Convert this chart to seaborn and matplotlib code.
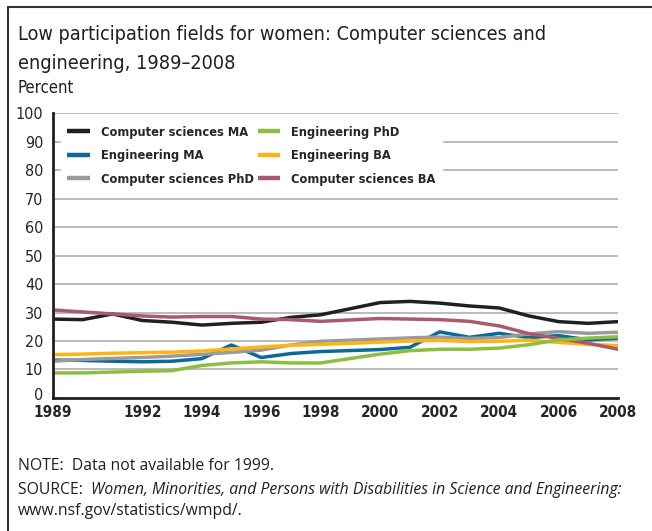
import matplotlib
matplotlib.use("Agg")
import matplotlib.pyplot as plt
import seaborn as sns
import pandas as pd
from matplotlib import transforms
from matplotlib.lines import Line2D

# no data for 1999, lines join 1998 to 2000
YEARS = [1989, 1990, 1991, 1992, 1993, 1994, 1995, 1996, 1997, 1998,
         2000, 2001, 2002, 2003, 2004, 2005, 2006, 2007, 2008]

CS_MA = [27.7, 27.5, 29.5, 27.2, 26.6, 25.6, 26.2, 26.6, 28.3, 29.2,
         33.5, 33.9, 33.3, 32.3, 31.6, 28.8, 26.8, 26.2, 26.8]
ENG_MA = [13.3, 13.2, 12.9, 12.7, 12.9, 13.8, 18.6, 14.2, 15.6, 16.3,
          17.0, 17.8, 23.2, 21.3, 22.7, 21.2, 21.9, 20.4, 21.0]
CS_PHD = [12.9, 13.5, 13.9, 14.2, 14.7, 15.3, 16.0, 16.8, 18.6, 19.9,
          20.7, 21.1, 21.4, 20.9, 21.2, 22.5, 23.3, 22.7, 23.1]
ENG_PHD = [8.8, 8.8, 9.1, 9.4, 9.6, 11.4, 12.3, 12.7, 12.3, 12.3,
           15.4, 16.6, 17.1, 17.1, 17.5, 18.7, 20.4, 21.0, 21.5]
ENG_BA = [15.2, 15.4, 15.7, 15.9, 16.1, 16.5, 17.2, 17.9, 18.5, 18.8,
          19.6, 20.0, 20.2, 19.8, 19.9, 20.3, 19.5, 18.8, 18.4]
CS_BA = [30.9, 30.2, 29.5, 28.8, 28.4, 28.6, 28.6, 27.7, 27.5, 26.9,
         27.9, 27.7, 27.5, 26.9, 25.3, 22.6, 20.9, 19.2, 17.1]

SERIES_NAMES = ["Computer sciences MA", "Engineering MA", "Computer sciences PhD",
                "Engineering PhD", "Engineering BA", "Computer sciences BA"]
SERIES_VALUES = [CS_MA, ENG_MA, CS_PHD, ENG_PHD, ENG_BA, CS_BA]
COLORS = ["#231f20", "#0b6a98", "#9a9b9d", "#8cbf3f", "#fdb515", "#a95b6e"]
# drawing order (back to front)
Z_ORDER = [1, 0, 2, 5, 3, 4]

X_LABELED = [1989, 1992, 1994, 1996, 1998, 2000, 2002, 2004, 2006, 2008]

sns.set_theme(style="white")
plt.rcParams["font.family"] = ["DejaVu Sans"]
plt.rcParams["font.stretch"] = "condensed"
BODY = ["Open Sans", "DejaVu Sans"]

rows = []
for name, vals in zip(SERIES_NAMES, SERIES_VALUES):
    for y, v in zip(YEARS, vals):
        rows.append({"year": y, "value": v, "series": name})
df = pd.DataFrame(rows)

fig = plt.figure(figsize=(6.52, 5.31), dpi=100)
ax = fig.add_axes([0.0813, 0.2505, 0.948 - 0.0813, 0.787 - 0.2505])

handles = {}
for i, name in enumerate(SERIES_NAMES):
    sns.lineplot(data=df[df["series"] == name], x="year", y="value", ax=ax,
                 color=COLORS[i], linewidth=2.5, zorder=3 + Z_ORDER[i],
                 legend=False)
    handles[name] = Line2D([0], [0], color=COLORS[i], linewidth=3.2,
                           solid_capstyle="butt")

ax.set_xlim(1989, 2008)
ax.set_ylim(0, 100)
ax.set_yticks(range(0, 101, 10))
ax.set_yticklabels([str(v) for v in range(0, 101, 10)], fontsize=11.5)
ax.set_xticks(range(1989, 2009))
ax.set_xticklabels([str(y) if y in X_LABELED else "" for y in range(1989, 2009)],
                   fontsize=11, fontweight="bold")
ax.tick_params(axis="x", direction="in", length=5, width=1.2, color="black", pad=5)
ax.tick_params(axis="y", length=0, pad=7)
ax.set_xlabel("")
ax.set_ylabel("")
# lift the "0" label a little, as in the original
zero = ax.get_yticklabels()[0]
zero.set_transform(zero.get_transform() +
                   transforms.ScaledTranslation(0, 4 / 100, fig.dpi_scale_trans))

for v in range(10, 101, 10):
    ax.axhline(v, color="#b5b5b5", linewidth=1.3, zorder=1)

for s in ["top", "right"]:
    ax.spines[s].set_visible(False)
for s in ["left", "bottom"]:
    ax.spines[s].set_color("#231f20")
    ax.spines[s].set_linewidth(2)
    ax.spines[s].set_zorder(10)

leg = ax.legend([handles[n] for n in SERIES_NAMES], SERIES_NAMES, ncol=2,
                loc="upper left", bbox_to_anchor=(0.014, 0.978), frameon=True,
                prop={"family": "DejaVu Sans", "stretch": "condensed",
                      "weight": "bold", "size": 9.2},
                handlelength=1.75, handletextpad=0.85, columnspacing=0.35,
                labelspacing=0.82, borderpad=0.5, borderaxespad=0)
leg.get_frame().set_facecolor("white")
leg.get_frame().set_edgecolor("white")
leg.get_frame().set_alpha(1)
leg.get_frame().set_boxstyle("square", pad=0)
leg.set_zorder(20)

fig.text(0.0276, 0.953, "Low participation fields for women: Computer sciences and\n"
         "engineering, 1989\u20132008", fontsize=14.2, va="top", ha="left",
         linespacing=1.65, color="#231f20")
fig.text(0.0276, 0.834, "Percent", fontsize=12, va="center", ha="left", color="#231f20")

fs_body = 11.3
fig.text(0.0276, 0.1224, "NOTE:  Data not available for 1999.", fontsize=fs_body,
         family=BODY, stretch="normal", va="center", ha="left", color="#231f20")
src = fig.text(0.0276, 0.0772, "SOURCE:  ", fontsize=fs_body, family=BODY,
               stretch="normal", va="center", ha="left", color="#231f20")
fig.canvas.draw()
bb = src.get_window_extent(renderer=fig.canvas.get_renderer())
fig.text(bb.x1 / fig.bbox.width, 0.0772,
         "Women, Minorities, and Persons with Disabilities in Science and Engineering:",
         fontsize=fs_body, family=BODY, stretch="normal", style="italic",
         va="center", ha="left", color="#231f20")
fig.text(0.0276, 0.0377, "www.nsf.gov/statistics/wmpd/.", fontsize=fs_body,
         family=BODY, stretch="normal", va="center", ha="left", color="#231f20")

# outer frame: top and left rule
fig.add_artist(Line2D([0.0123, 1.0], [0.987, 0.987], color="#333333",
                      linewidth=1.5, transform=fig.transFigure))
fig.add_artist(Line2D([0.0123, 0.0123], [0.0, 0.987], color="#333333",
                      linewidth=1.5, transform=fig.transFigure))

fig.savefig("out.png", dpi=100)
